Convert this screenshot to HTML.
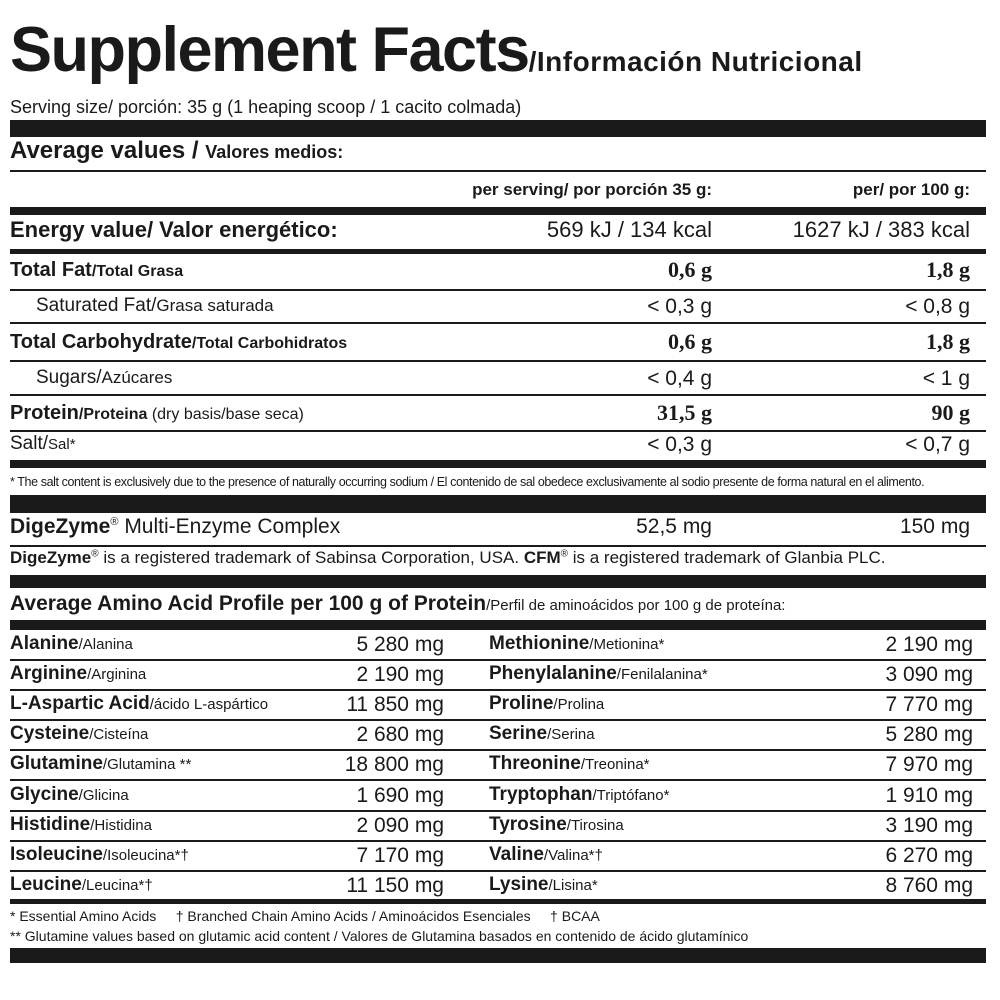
<!DOCTYPE html>
<html><head><meta charset="utf-8"><style>
body{margin:0;width:1000px;height:1000px;background:#fff;position:relative;overflow:hidden;font-family:"Liberation Sans Narrow","Liberation Sans",sans-serif;color:#1a1a1a}
.b{position:absolute;left:10px;width:976px;background:#1a1a1a}
.t{position:absolute;white-space:nowrap;line-height:1}
.r{text-align:right}
.bb{font-weight:bold}
</style></head><body>
<div class="t bb" style="left:10px;top:19px;font-size:63px;font-family:'Liberation Sans',sans-serif;letter-spacing:-1.5px">Supplement Facts<span style="font-size:28px;letter-spacing:0.5px">/Información Nutricional</span></div>
<div class="t" style="left:10px;top:98px;font-size:18px;font-family:'Liberation Sans',sans-serif">Serving size/ porción: 35 g (1 heaping scoop / 1 cacito colmada)</div>
<div class="b" style="top:120px;height:17px"></div>
<div class="t bb" style="left:10px;top:139px;font-size:24px;font-family:'Liberation Sans',sans-serif">Average values / <span style="font-size:18px">Valores medios:</span></div>
<div class="b" style="top:170px;height:2px"></div>
<div class="t bb r" style="right:288px;top:181px;font-size:17px;font-family:'Liberation Sans',sans-serif">per serving/ por porción 35 g:</div>
<div class="t bb r" style="right:30px;top:181px;font-size:17px;font-family:'Liberation Sans',sans-serif">per/ por 100 g:</div>
<div class="b" style="top:207px;height:8px"></div>
<div class="t bb" style="left:10px;top:219px;font-size:22px;font-family:'Liberation Sans',sans-serif">Energy value/ Valor energético:</div>
<div class="t r" style="right:288px;top:219px;font-size:22px;font-family:'Liberation Sans',sans-serif">569 kJ / 134 kcal</div>
<div class="t r" style="right:30px;top:219px;font-size:22px;font-family:'Liberation Sans',sans-serif">1627 kJ / 383 kcal</div>
<div class="b" style="top:249px;height:5px"></div>

<div class="t bb" style="left:10px;top:260px;font-size:20px">Total Fat<span style="font-size:16px">/Total Grasa</span></div>
<div class="t bb r" style="right:288px;top:259px;font-size:22px;font-family:'Liberation Serif',serif">0,6 g</div>
<div class="t bb r" style="right:30px;top:259px;font-size:22px;font-family:'Liberation Serif',serif">1,8 g</div>
<div class="b" style="top:289px;height:2px"></div>
<div class="t" style="left:36px;top:296px;font-size:19px;font-family:'Liberation Sans',sans-serif">Saturated Fat/<span style="font-size:17px">Grasa saturada</span></div>
<div class="t r" style="right:288px;top:296px;font-size:21px;font-family:'Liberation Sans',sans-serif">&lt; 0,3 g</div>
<div class="t r" style="right:30px;top:296px;font-size:21px;font-family:'Liberation Sans',sans-serif">&lt; 0,8 g</div>
<div class="b" style="top:322px;height:2px"></div>
<div class="t bb" style="left:10px;top:332px;font-size:20px">Total Carbohydrate<span style="font-size:16px">/Total Carbohidratos</span></div>
<div class="t bb r" style="right:288px;top:331px;font-size:22px;font-family:'Liberation Serif',serif">0,6 g</div>
<div class="t bb r" style="right:30px;top:331px;font-size:22px;font-family:'Liberation Serif',serif">1,8 g</div>
<div class="b" style="top:360px;height:2px"></div>
<div class="t" style="left:36px;top:368px;font-size:19px;font-family:'Liberation Sans',sans-serif">Sugars/<span style="font-size:17px">Azúcares</span></div>
<div class="t r" style="right:288px;top:368px;font-size:21px;font-family:'Liberation Sans',sans-serif">&lt; 0,4 g</div>
<div class="t r" style="right:30px;top:368px;font-size:21px;font-family:'Liberation Sans',sans-serif">&lt; 1 g</div>
<div class="b" style="top:394px;height:2px"></div>
<div class="t bb" style="left:10px;top:403px;font-size:20px">Protein<span style="font-size:16px">/Proteina <span style="font-weight:normal;font-family:'Liberation Sans',sans-serif">(dry basis/base seca)</span></span></div>
<div class="t bb r" style="right:288px;top:402px;font-size:22px;font-family:'Liberation Serif',serif">31,5 g</div>
<div class="t bb r" style="right:30px;top:402px;font-size:22px;font-family:'Liberation Serif',serif">90 g</div>
<div class="b" style="top:430px;height:2px"></div>
<div class="t" style="left:10px;top:434px;font-size:19px;font-family:'Liberation Sans',sans-serif">Salt/<span style="font-size:15px">Sal*</span></div>
<div class="t r" style="right:288px;top:434px;font-size:21px;font-family:'Liberation Sans',sans-serif">&lt; 0,3 g</div>
<div class="t r" style="right:30px;top:434px;font-size:21px;font-family:'Liberation Sans',sans-serif">&lt; 0,7 g</div>
<div class="b" style="top:460px;height:8px"></div>
<div class="t" style="left:10px;top:476px;font-size:12.5px;letter-spacing:-0.4px">* The salt content is exclusively due to the presence of naturally occurring sodium / El contenido de sal obedece exclusivamente al sodio presente de forma natural en el alimento.</div>
<div class="b" style="top:495px;height:18px"></div>
<div class="t" style="left:10px;top:516px;font-size:21px;font-family:'Liberation Sans',sans-serif"><b>DigeZyme</b><sup style="font-size:11px">®</sup> Multi-Enzyme Complex</div>
<div class="t r" style="right:288px;top:516px;font-size:21px;font-family:'Liberation Sans',sans-serif">52,5 mg</div>
<div class="t r" style="right:30px;top:516px;font-size:21px;font-family:'Liberation Sans',sans-serif">150 mg</div>
<div class="b" style="top:545px;height:2px"></div>
<div class="t" style="left:10px;top:549px;font-size:17px"><b>DigeZyme</b><sup style="font-size:10px">®</sup> is a registered trademark of Sabinsa Corporation, USA. <b>CFM</b><sup style="font-size:10px">®</sup> is a registered trademark of Glanbia PLC.</div>
<div class="b" style="top:575px;height:13px"></div>
<div class="t bb" style="left:10px;top:593px;font-size:21px;font-family:'Liberation Sans',sans-serif">Average Amino Acid Profile per 100 g of Protein<span style="font-weight:normal;font-size:15px">/Perfil de aminoácidos por 100 g de proteína:</span></div>
<div class="b" style="top:620px;height:10px"></div>

<div id="am"></div>
<script>
var L=[["Alanine","Alanina","5 280 mg"],["Arginine","Arginina","2 190 mg"],["L-Aspartic Acid","ácido L-aspártico","11 850 mg"],["Cysteine","Cisteína","2 680 mg"],["Glutamine","Glutamina **","18 800 mg"],["Glycine","Glicina","1 690 mg"],["Histidine","Histidina","2 090 mg"],["Isoleucine","Isoleucina*†","7 170 mg"],["Leucine","Leucina*†","11 150 mg"]];
var R=[["Methionine","Metionina*","2 190 mg"],["Phenylalanine","Fenilalanina*","3 090 mg"],["Proline","Prolina","7 770 mg"],["Serine","Serina","5 280 mg"],["Threonine","Treonina*","7 970 mg"],["Tryptophan","Triptófano*","1 910 mg"],["Tyrosine","Tirosina","3 190 mg"],["Valine","Valina*†","6 270 mg"],["Lysine","Lisina*","8 760 mg"]];
var h="";
for(var i=0;i<9;i++){var y=634+i*30.1;
h+='<div class="t" style="left:10px;top:'+y+'px;font-size:19px"><b>'+L[i][0]+'</b><span style="font-size:15px">/'+L[i][1]+'</span></div>';
h+='<div class="t r" style="right:556px;top:'+y+'px;font-size:21px;font-family:\'Liberation Sans\',sans-serif">'+L[i][2]+'</div>';
h+='<div class="t" style="left:489px;top:'+y+'px;font-size:19px"><b>'+R[i][0]+'</b><span style="font-size:15px">/'+R[i][1]+'</span></div>';
h+='<div class="t r" style="right:27px;top:'+y+'px;font-size:21px;font-family:\'Liberation Sans\',sans-serif">'+R[i][2]+'</div>';
if(i<8)h+='<div class="b" style="top:'+(659+i*30.1)+'px;height:2px"></div>';}
document.getElementById("am").innerHTML=h;
</script>
<div class="b" style="top:899px;height:5px"></div>
<div class="t" style="left:10px;top:909px;font-size:14px">* Essential Amino Acids &nbsp;&nbsp;&nbsp; † Branched Chain Amino Acids / Aminoácidos Esenciales &nbsp;&nbsp;&nbsp; † BCAA</div>
<div class="t" style="left:10px;top:929px;font-size:14px">** Glutamine values based on glutamic acid content / Valores de Glutamina basados en contenido de ácido glutamínico</div>
<div class="b" style="top:948px;height:15px"></div>
</body></html>
